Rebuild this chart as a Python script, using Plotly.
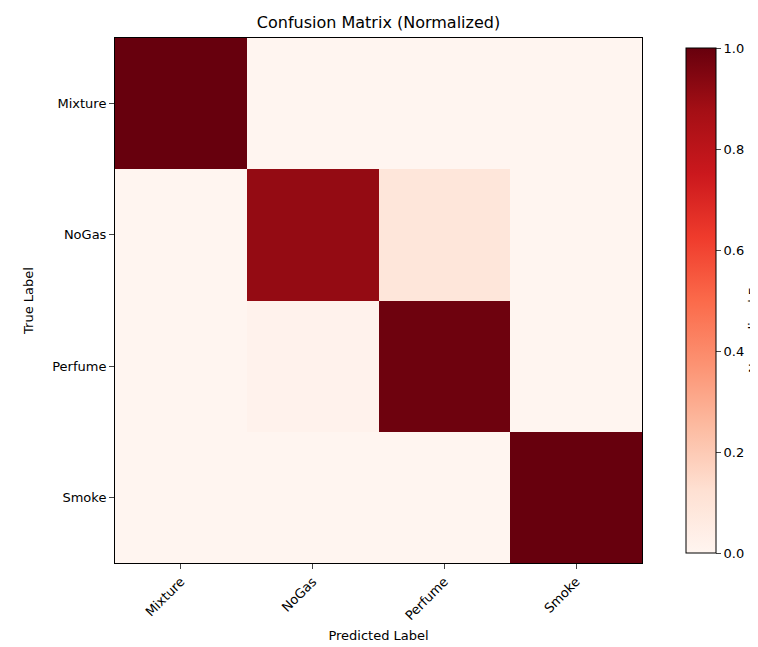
import plotly.graph_objects as go

labels = ["Mixture", "NoGas", "Perfume", "Smoke"]
matrix = [
    [1.00, 0.00, 0.00, 0.00],
    [0.00, 0.91, 0.09, 0.00],
    [0.00, 0.015, 0.985, 0.00],
    [0.00, 0.00, 0.00, 1.00],
]

fig = go.Figure(go.Heatmap(
    z=matrix, x=labels, y=labels, colorscale="Reds", zmin=0, zmax=1,
    colorbar=dict(
        title=dict(text="Normalized Frequency", side="right", font=dict(size=13)),
        x=1.0645, xanchor="left", y=0, yanchor="bottom", len=1, lenmode="fraction",
        thickness=30, thicknessmode="pixels", outlinewidth=1, outlinecolor="black",
        ticks="outside", tickvals=[0, 0.2, 0.4, 0.6, 0.8, 1.0],
        ticktext=["0.0", "0.2", "0.4", "0.6", "0.8", "1.0"], tickfont=dict(size=13),
    ),
))
fig.update_layout(
    width=758, height=647,
    margin=dict(l=107, r=124, t=30, b=92, autoexpand=False),
    paper_bgcolor="white", plot_bgcolor="white",
    font=dict(family="DejaVu Sans", color="black", size=13),
    title=dict(text="Confusion Matrix (Normalized)", x=0.5 * (107 + 634) / 758, xanchor="center",
               y=1 - 14 / 647, yanchor="middle", font=dict(size=16)),
)
fig.update_xaxes(title=dict(text="Predicted Label", standoff=8, font=dict(size=13)), tickangle=-45,
                 ticks="outside", automargin=False,
                 showline=True, mirror=True, linecolor="black", showgrid=False)
fig.update_yaxes(title=dict(text="True Label", font=dict(size=13)), autorange="reversed", ticks="outside",
                 automargin=False,
                 showline=True, mirror=True, linecolor="black", showgrid=False)
fig.write_html("out.html")
